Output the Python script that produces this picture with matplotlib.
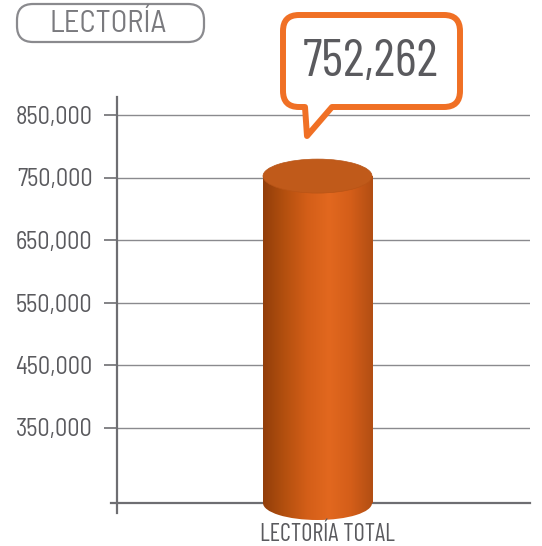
import numpy as np
import matplotlib
matplotlib.use('Agg')
import matplotlib.pyplot as plt
from matplotlib.patches import Ellipse, FancyBboxPatch, PathPatch
from matplotlib.path import Path
from matplotlib.colors import LinearSegmentedColormap

# datos
titulo = 'LECTORÍA'
categorias = ['LECTORÍA TOTAL']
valores = [752262]
ticks_y = [350000, 450000, 550000, 650000, 750000, 850000]
base_y = 229200

fuente = dict(family=['Barlow Condensed', 'DejaVu Sans'])
fuente_semi = dict(family=['Barlow Semi Condensed', 'DejaVu Sans'])
gris_txt = '#5a5a5e'
naranja = '#f07025'

fig = plt.figure(figsize=(5.42, 5.46), dpi=100)
ax = fig.add_axes([117/542, (546-521.25)/546, 413/542, 424.25/546])
ax.set_xlim(-0.971, 1.029)
ax.set_ylim(200000, 878800)

for s in ['top', 'right', 'bottom']:
    ax.spines[s].set_visible(False)
ax.spines['left'].set_color('#6e6e72')
ax.spines['left'].set_linewidth(1.6)
ax.spines['left'].set_bounds(213000, 878800)

ax.set_yticks(ticks_y, [f'{t:,}' for t in ticks_y])
ax.tick_params(axis='y', length=9.5, width=1.2, color='#6e6e72', pad=8,
               labelsize=17.5, labelcolor=gris_txt)
for lab in ax.get_yticklabels():
    lab.set(**fuente_semi)
ax.set_xticks([])
for t in ticks_y:
    ax.axhline(t, color='#8a8a8e', lw=1.0, zorder=1)
ax.plot([-1.0, 1.029], [base_y, base_y], color='#6e6e72', lw=1.6,
        zorder=1, clip_on=False)

# cilindro
cmap = LinearSegmentedColormap.from_list(
    'cil', ['#923e0a', '#b4500f', '#d35e18', '#e2681f', '#d45e19', '#b24e13'])
grad = np.linspace(0, 1, 256).reshape(1, -1)
ancho = 0.528
alto_elipse = 54400
for i, (cat, v) in enumerate(zip(categorias, valores)):
    xl, xr = i - ancho/2, i + ancho/2
    el_inf = Ellipse((i, base_y), ancho, alto_elipse, transform=ax.transData,
                     facecolor='none', edgecolor='none')
    ax.add_patch(el_inf)
    im = ax.imshow(grad, cmap=cmap, aspect='auto', zorder=3,
                   extent=[xl, xr, base_y - alto_elipse/2, base_y + alto_elipse/2])
    im.set_clip_path(el_inf)
    ax.imshow(grad, cmap=cmap, aspect='auto', zorder=3,
              extent=[xl, xr, base_y, v])
    ax.add_patch(Ellipse((i, v), ancho, alto_elipse, facecolor='#c05a1a',
                         edgecolor='#b85416', lw=0.5, zorder=4))
    ax.annotate(cat, xy=(i, 0), xycoords=('data', 'axes fraction'),
                xytext=(7, -14), textcoords='offset points', ha='center',
                va='baseline', fontsize=17.5, color=gris_txt, **fuente)
ax.set_xlim(-0.971, 1.029)
ax.set_ylim(200000, 878800)

# capa superior: titulo y globo
ov = fig.add_axes([0, 0, 1, 1])
ov.set_xlim(0, 542)
ov.set_ylim(546, 0)
ov.axis('off')
ov.patch.set_alpha(0)

ov.add_patch(FancyBboxPatch((17, 4), 187, 38, boxstyle='round,pad=0,rounding_size=16',
                            facecolor='white', edgecolor='#8a8a8e', lw=1.6))
ov.text(108, 24, titulo, ha='center', va='center', fontsize=22,
        color='#7a7a7e', **fuente_semi)

x0, x1, y0, y1, r = 283, 460, 15, 107, 16
verts = [(x0 + r, y0), (x1 - r, y0), (x1, y0), (x1, y0 + r), (x1, y1 - r),
         (x1, y1), (x1 - r, y1), (332, y1), (307, 136), (305, y1),
         (x0 + r, y1), (x0, y1), (x0, y1 - r), (x0, y0 + r), (x0, y0),
         (x0 + r, y0), (x0 + r, y0)]
codes = [Path.MOVETO, Path.LINETO, Path.CURVE3, Path.CURVE3, Path.LINETO,
         Path.CURVE3, Path.CURVE3, Path.LINETO, Path.LINETO, Path.LINETO,
         Path.LINETO, Path.CURVE3, Path.CURVE3, Path.LINETO, Path.CURVE3,
         Path.CURVE3, Path.CLOSEPOLY]
ov.add_patch(PathPatch(Path(verts, codes), facecolor='white', edgecolor=naranja,
                       lw=4.3, joinstyle='round'))
ov.text((x0 + x1)/2 - 1, 63, f'{valores[0]:,}', ha='center', va='center',
        fontsize=38, color=gris_txt, **fuente)

fig.savefig('out.png', dpi=100)
